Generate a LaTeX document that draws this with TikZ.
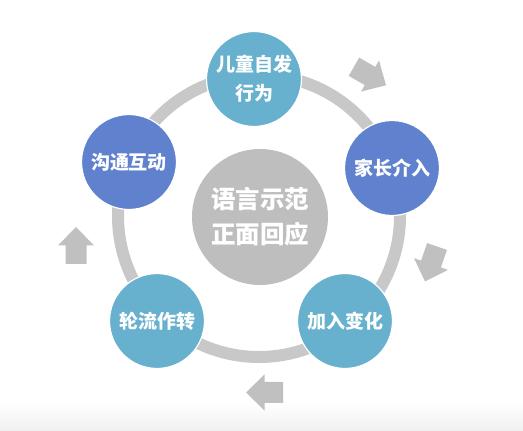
\documentclass[tikz,border=0pt]{standalone}
\usepackage{fontspec}
\newfontfamily\cjk{Noto Sans CJK SC}
\definecolor{lightblue}{RGB}{104,177,206}
\definecolor{deepblue}{RGB}{96,130,206}
\definecolor{ringgray}{RGB}{200,200,200}
\definecolor{coregray}{RGB}{190,190,190}
\definecolor{arrowgray}{RGB}{192,192,192}
\tikzset{
  bubble/.style={circle, draw=white, line width=1.2pt, minimum size=95pt, inner sep=0pt,
    text=white, align=center, font=\cjk\bfseries\fontsize{19}{29}\selectfont},
}
\newcommand{\turnarrow}[2]{\fill[arrowgray, shift={#1}, rotate=#2] (-18.5,-10.5) -- (0,-10.5) -- (0,-18) -- (18.5,0) -- (0,18) -- (0,10.5) -- (-18.5,10.5) -- cycle;}

\begin{document}
\begin{tikzpicture}[x=1pt,y=1pt]
\useasboundingbox (0,0) rectangle (523,431);
\shade[top color=white, bottom color=black!6] (0,0) rectangle (523,28);
\draw[ringgray, line width=12pt] (259,215) circle (141pt);
\node[circle, fill=coregray, minimum size=136pt, inner sep=0pt, text=white, align=center,
  font=\cjk\bfseries\fontsize{24.5}{35}\selectfont] (core) at (260,214) {语言示范\\正面回应};
\node[bubble, fill=lightblue] (spont) at (254,352) {儿童自发\\行为};
\node[bubble, fill=deepblue] (parent) at (392,263) {家长介入};
\node[bubble, fill=lightblue] (vary) at (345,110) {加入变化};
\node[bubble, fill=lightblue] (turns) at (157,110) {轮流作转};
\node[bubble, fill=deepblue] (talk) at (129,269) {沟通互动};
\turnarrow{(370,355)}{-30}
\turnarrow{(431,167)}{-109}
\turnarrow{(264.5,38.5)}{180}
\turnarrow{(76,185.5)}{90}
\end{tikzpicture}
\end{document}
